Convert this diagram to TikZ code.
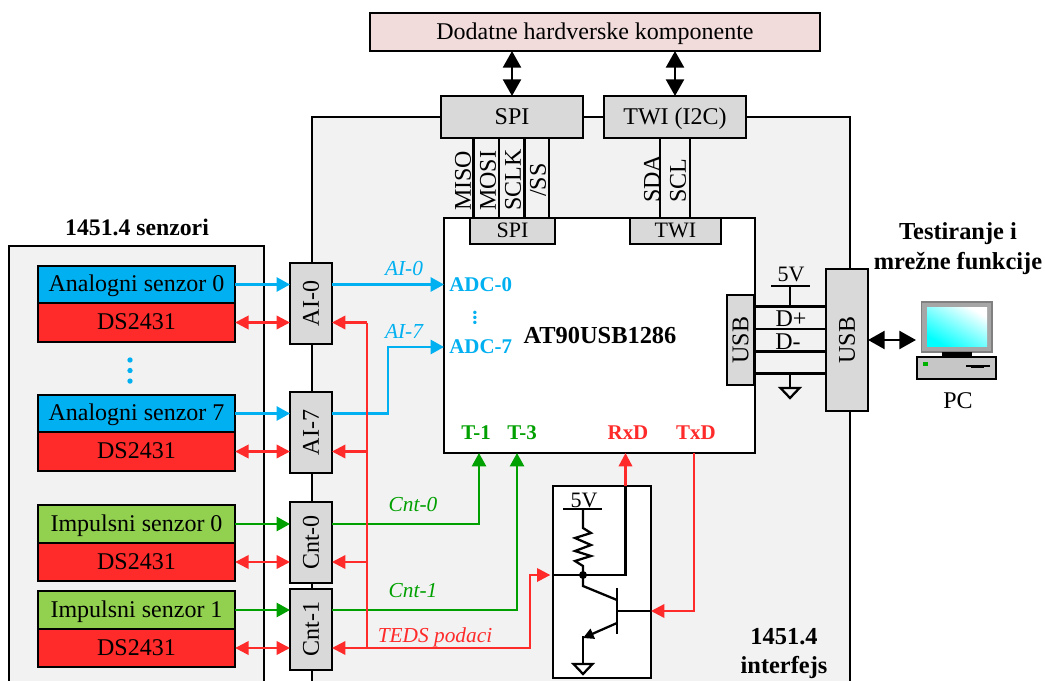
\documentclass[tikz,border=0pt]{standalone}
\usepackage{fontspec}
\setmainfont{Liberation Serif}
\usetikzlibrary{arrows.meta,positioning,calc}
\definecolor{PanelGray}{HTML}{F2F2F2}
\definecolor{PortGray}{HTML}{D9D9D9}
\definecolor{TopPink}{HTML}{F2DCDB}
\definecolor{SigBlue}{HTML}{00B0F0}
\definecolor{SigRed}{HTML}{FF2A2A}
\definecolor{SigGreen}{HTML}{00A000}
\definecolor{PulseGreen}{HTML}{92D050}
\tikzset{
  txt/.style={font=\fontsize{18pt}{20pt}\selectfont},
  smalltxt/.style={font=\fontsize{16.5pt}{18pt}\selectfont},
  boldtxt/.style={font=\fontsize{18.3pt}{22pt}\selectfont\bfseries,align=center},
  tagtxt/.style={font=\fontsize{15.7pt}{18pt}\selectfont\bfseries},
  itlab/.style={font=\fontsize{16pt}{18pt}\selectfont\itshape},
  htxt/.style={text height=13.5pt,text depth=2.3pt},
  boxed/.style={draw,line width=1.5pt,outer sep=0pt,inner sep=0pt,txt},
  port/.style={boxed,fill=PortGray},
  modbox/.style={port,minimum width=31.5pt,minimum height=60.75pt},
  analog/.style={boxed,htxt,fill=SigBlue,minimum width=148pt,minimum height=28pt},
  pulse/.style={boxed,htxt,fill=PulseGreen,minimum width=148pt,minimum height=28pt},
  idchip/.style={boxed,htxt,fill=SigRed,minimum width=148pt,minimum height=29pt},
  wire/.style={line width=1.7pt},
  blueln/.style={line width=1.9pt,SigBlue,-{Triangle[length=10pt,width=10.5pt]}},
  greenln/.style={line width=1.9pt,SigGreen,-{Triangle[length=10pt,width=10.5pt]}},
  redln/.style={line width=1.8pt,SigRed,-{Triangle[length=10pt,width=10pt]}},
  redboth/.style={line width=1.8pt,SigRed,{Triangle[length=10pt,width=10pt]}-{Triangle[length=10pt,width=10pt]}},
  blackboth/.style={line width=1.8pt,{Triangle[length=12.5pt,width=13.5pt]}-{Triangle[length=12.5pt,width=13.5pt]}},
  gnd/.pic={\draw[wire] (-9.5,0)--(9.5,0)--(0,10)--cycle;},
}
\begin{document}
\begin{tikzpicture}[x=0.75pt,y=-0.75pt]
  \useasboundingbox (0,0) rectangle (1045,681);
  \clip (0,0) rectangle (1045,681);
  \draw[wire,fill=PanelGray] (312,117) rectangle (850,700);
  \draw[wire,fill=PanelGray] (9,246) rectangle (264,700);
  \node[boldtxt,font=\fontsize{17.8pt}{22pt}\selectfont\bfseries] (senzlab) at (137,227) {1451.4 senzori};
  \node[boldtxt] (testlab) at (958,248.5) {Testiranje i\\mrežne funkcije};
  \node[boldtxt] (ifclab) at (784,653.5) {1451.4\\interfejs};

  \node[boxed,htxt,fill=TopPink,minimum width=337.5pt,minimum height=28.5pt] (extra) at (595,32) {Dodatne hardverske komponente};
  \node[port,htxt,minimum width=106.5pt,minimum height=31.5pt] (spi) at (512,117) {SPI};
  \node[port,htxt,minimum width=106.5pt,minimum height=31.5pt] (twi) at (675,117) {TWI (I2C)};
  \draw[blackboth] (extra.south -| spi) -- (spi);
  \draw[blackboth] (extra.south -| twi) -- (twi);

  \node[boxed,fill=white,minimum width=233.25pt,minimum height=176.25pt] (mcu) at (599.5,335.5) {};
  \node[port,smalltxt,text height=12.4pt,text depth=2.1pt,minimum width=63.75pt,minimum height=19.5pt] (spis) at (512.5,231) {SPI};
  \node[port,smalltxt,text height=12.4pt,text depth=2.1pt,minimum width=68.25pt,minimum height=19.5pt] (twis) at (675.5,231) {TWI};
  \foreach \x in {473.5,499,524.5,549} \draw[wire] (spi.south -| \x,0) -- (spis.north -| \x,0);
  \foreach \x in {660,690} \draw[wire] (twi.south -| \x,0) -- (twis.north -| \x,0);
  \foreach \x/\t [count=\i] in {463/MISO,488/MOSI,513/SCLK} \node[txt,rotate=90,anchor=west,inner sep=0pt] (pin\i) at (\x,211) {\t};
  \node[txt,rotate=90,inner sep=0pt] (pin4) at (538,180) {/SS};
  \node[txt,rotate=90,anchor=west,inner sep=0pt] (pin5) at (652,203) {SDA};
  \node[txt,rotate=90,anchor=west,inner sep=0pt] (pin6) at (678,203) {SCL};

  \node[analog] (a0) at (136.5,284.5) {Analogni senzor 0};
  \node[idchip,below=0pt of a0] (d0) {DS2431};
  \node[analog] (a7) at (136.5,413.5) {Analogni senzor 7};
  \node[idchip,below=0pt of a7] (d1) {DS2431};
  \node[pulse] (c0) at (136.5,524) {Impulsni senzor 0};
  \node[idchip,below=0pt of c0] (d2) {DS2431};
  \node[pulse] (c1) at (136.5,610) {Impulsni senzor 1};
  \node[idchip,below=0pt of c1] (d3) {DS2431};
  \node[circle,fill=SigBlue,inner sep=0pt,minimum size=4pt] (dot1) at (130,360) {};
  \node[circle,fill=SigBlue,inner sep=0pt,minimum size=4pt,below=3.5pt of dot1] (dot2) {};
  \node[circle,fill=SigBlue,inner sep=0pt,minimum size=4pt,below=3.5pt of dot2] (dot3) {};

  \node[modbox] (ai0) at (311,303.5) {\rotatebox{90}{AI-0}};
  \node[modbox] (ai7) at (311,432.5) {\rotatebox{90}{AI-7}};
  \node[modbox] (cnt0) at (311,542.5) {\rotatebox{90}{Cnt-0}};
  \node[modbox] (cnt1) at (311,629) {\rotatebox{90}{Cnt-1}};
  \draw[blueln] (a0.east) -- (a0.east -| ai0.west);
  \draw[blueln] (a7.east) -- (a7.east -| ai7.west);
  \draw[greenln] (c0.east) -- (c0.east -| cnt0.west);
  \draw[greenln] (c1.east) -- (c1.east -| cnt1.west);
  \draw[redboth] (d0.east) -- (d0.east -| ai0.west);
  \draw[redboth] (d1.east) -- (d1.east -| ai7.west);
  \draw[redboth] (d2.east) -- (d2.east -| cnt0.west);
  \draw[redboth] (d3.east) -- (d3.east -| cnt1.west);

  \coordinate (bus) at (367,0);
  \coordinate (junct) at (583,575);
  \node[boxed,fill=white,minimum width=73.5pt,minimum height=144pt] (ifc) at (602,582) {};
  \draw[blueln] (a0.east -| ai0.east) -- (a0.east -| mcu.west);
  \draw[blueln] (a7.east -| ai7.east) -- (388,413.5) |- (444,347);
  \draw[greenln] (c0.east -| cnt0.east) -| (mcu.south -| 479,0);
  \draw[greenln] (c1.east -| cnt1.east) -| (mcu.south -| 517,0);
  \draw[redln] (d0.east -| bus) |- (d0.east -| ai0.east);
  \draw[line width=1.8pt,SigRed] (d0.east -| bus) -- (d3.east -| bus);
  \draw[redln] (d1.east -| bus) -- (d1.east -| ai7.east);
  \draw[redln] (d2.east -| bus) -- (d2.east -| cnt0.east);
  \draw[redboth,shorten >=2pt] (d3.east -| cnt1.east) -| (530,600) |- (ifc.west |- junct);
  \draw[redln] (ifc.north -| 625.5,0) -- (mcu.south -| 625.5,0);
  \draw[redln] (mcu.south -| 694,0) |- (ifc.east |- 0,611);

  \node[itlab,text=SigBlue] (lai0) at (404,269) {AI-0};
  \node[itlab,text=SigBlue] (lai7) at (404,331) {AI-7};
  \node[itlab,text=SigGreen] (lcnt0) at (413,505) {Cnt-0};
  \node[itlab,text=SigGreen] (lcnt1) at (413,591) {Cnt-1};
  \node[itlab,text=SigRed] (lteds) at (435,637) {TEDS podaci};

  \node[tagtxt,text=SigBlue,anchor=west,inner sep=0pt] (adc0) at (449,285) {ADC-0};
  \node[tagtxt,text=SigBlue,anchor=west,inner sep=0pt] (adc7) at (449,347) {ADC-7};
  \node[tagtxt,text=SigBlue] (adcdots) at (475,318) {\rotatebox{90}{...}};
  \node[boldtxt] (mcuname) at (600,336) {AT90USB1286};
  \node[tagtxt,text=SigGreen] (t1) at (476,433) {T-1};
  \node[tagtxt,text=SigGreen] (t3) at (522,433) {T-3};
  \node[tagtxt,text=SigRed] (rxd) at (628,433) {RxD};
  \node[tagtxt,text=SigRed] (txd) at (696,433) {TxD};

  \node[smalltxt] (vcc) at (584,500) {5V};
  \draw[wire] (563,509) -- (602,509);
  \draw[wire] (583,509) -- (583,528) -- (591,533) -- (575,538) -- (591,545) -- (575,551) -- (591,556) -- (575,561) -- (583,566) -- (junct);
  \draw[wire] (ifc.west |- junct) -- (625.5,575) -- (ifc.north -| 625.5,0);
  \fill (junct) circle (4);
  \draw[wire] (junct) -- (583,586) -- (617,600);
  \draw[wire] (617,588) -- (617,634);
  \draw[wire] (617,611) -- (ifc.east |- 0,611);
  \draw[wire,-{Triangle[length=8pt,width=8pt]}] (617,623) -- (583,638);
  \draw[wire] (583,636) -- (583,664);
  \pic at (583,664) {gnd};

  \node[port,minimum width=20.25pt,minimum height=67.5pt] (usbi) at (740.5,340) {\rotatebox{90}{USB}};
  \node[port,minimum width=31.5pt,minimum height=106.5pt] (usbo) at (847,340) {\rotatebox{90}{USB}};
  \foreach \y in {306.5,329,351.5,373.5} \draw[wire] (usbi.east |- 0,\y) -- (usbo.west |- 0,\y);
  \node[smalltxt] (vusb) at (791,274) {5V};
  \draw[wire] (771,286) -- (810,286);
  \draw[wire] (790,286) -- (790,306.5);
  \draw[wire] (790,373.5) -- (790,388);
  \pic at (790,388) {gnd};
  \node[txt] (dplus) at (791,319) {D+};
  \node[txt] (dminus) at (788,342) {D-};

  \coordinate (pcin) at (916,340);
  \draw[blackboth] (usbo.east) -- (pcin);
  \draw[line width=0.9pt,draw=gray,fill=gray!70] (921.5,302) rectangle (992,352);
  \shade[left color=white,right color=cyan,shading angle=-30] (927,307) rectangle (987,346);
  \fill (942,352) rectangle (972,358);
  \draw[line width=1.5pt,fill=gray!45] (917,357) rectangle (996,379);
  \fill[green!70!black] (923,362) rectangle (928,366);
  \draw[line width=0.9pt] (966,366) -- (990,366);
  \fill (971,364.5) rectangle (984,367.5);
  \node[txt] (pc) at (958,401) {PC};
\end{tikzpicture}
\end{document}
